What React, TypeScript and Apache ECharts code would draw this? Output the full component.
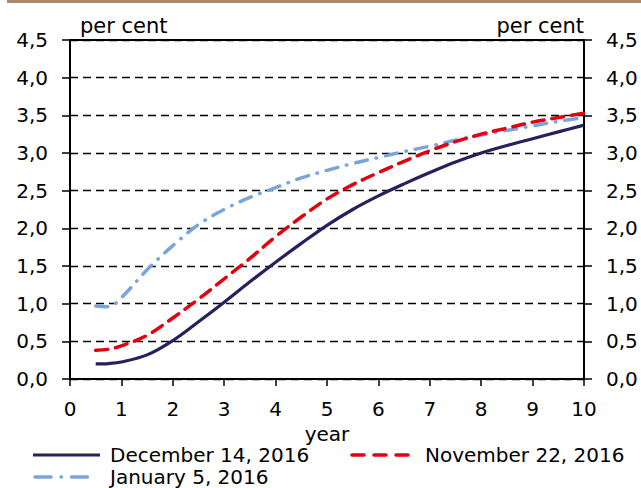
import React, { useEffect, useRef } from "react";
import * as echarts from "echarts";

const years = [0.5, 0.75, 1, 1.5, 2, 2.5, 3, 3.5, 4, 4.5, 5, 5.5, 6, 6.5, 7, 7.5, 8, 8.5, 9, 9.5, 10];
const dec14 = [0.2, 0.205, 0.225, 0.32, 0.51, 0.76, 1.02, 1.29, 1.55, 1.8, 2.04, 2.25, 2.43, 2.59, 2.74, 2.88, 3.0, 3.1, 3.19, 3.28, 3.37];
const nov22 = [0.38, 0.395, 0.44, 0.58, 0.81, 1.06, 1.33, 1.6, 1.89, 2.15, 2.39, 2.58, 2.74, 2.89, 3.03, 3.15, 3.25, 3.33, 3.41, 3.47, 3.53];
const jan5 = [0.97, 0.96, 1.08, 1.45, 1.77, 2.05, 2.25, 2.41, 2.54, 2.67, 2.77, 2.86, 2.94, 3.02, 3.09, 3.17, 3.24, 3.3, 3.36, 3.42, 3.47];
const seriesNames = ["December 14, 2016", "November 22, 2016", "January 5, 2016"];
const yUnit = "per cent";
const xName = "year";

const FONT = "DejaVu Sans";
const FS = 20;
const NAVY = "#24215c";
const RED = "#e3000f";
const BLUE = "#79a5db";

export default function App() {
  const ref = useRef<HTMLDivElement>(null);
  useEffect(() => {
    if (!ref.current) return;
    const chart = echarts.init(ref.current, undefined, { renderer: "svg" });
    const pairs = (ys: number[]) => years.map((x, i) => [x, ys[i]]);
    const fmt = (v: number) => v.toFixed(1).replace(".", ",");
    const font = `${FS}px "${FONT}"`;
    const yCommon = {
      type: "value",
      min: 0,
      max: 4.5,
      interval: 0.5,
      name: yUnit,
      nameGap: 4,
      axisLine: { show: true, lineStyle: { color: "#000", width: 2 } },
      axisTick: { show: true, length: 8, lineStyle: { color: "#000", width: 1.5 } },
      axisLabel: { color: "#000", fontFamily: FONT, fontSize: FS, margin: 22, formatter: fmt },
    };
    const legendRow = (x1: number, x2: number, y: number, tx: number, color: string, dash: number[] | null, w: number, text: string) => [
      {
        type: "line",
        shape: { x1, y1: y, x2, y2: y },
        style: { stroke: color, lineWidth: w, lineDash: dash || undefined, lineCap: dash ? "round" : "butt" },
      },
      {
        type: "text",
        x: tx,
        y,
        style: { text, font, fill: "#000", verticalAlign: "middle", align: "left" },
      },
    ];
    chart.setOption({
      animation: false,
      backgroundColor: "#fff",
      textStyle: { fontFamily: FONT },
      graphic: [
        { type: "rect", shape: { x: 7, y: 0, width: 634, height: 3 }, style: { fill: "#a68a6b" } },
        ...legendRow(33, 100, 455, 110, NAVY, null, 3.2, seriesNames[0]),
        ...legendRow(352, 417, 455, 425, RED, [12, 10], 3.5, seriesNames[1]),
        ...legendRow(35, 91, 477, 110, BLUE, [16, 10, 0.5, 10], 3.5, seriesNames[2]),
      ],
      grid: {
        left: 70,
        right: 57,
        top: 40,
        bottom: 109,
        show: true,
        borderColor: "#000",
        borderWidth: 2,
        backgroundColor: "transparent",
      },
      xAxis: {
        type: "value",
        min: 0,
        max: 10,
        interval: 1,
        name: xName,
        nameLocation: "middle",
        nameGap: 40,
        nameTextStyle: { color: "#000", fontFamily: FONT, fontSize: FS },
        axisLine: { show: true, onZero: false, lineStyle: { color: "#000", width: 2 } },
        axisTick: { show: true, length: 7, lineStyle: { color: "#000", width: 1.5 } },
        axisLabel: { color: "#000", fontFamily: FONT, fontSize: FS, margin: 20 },
        splitLine: { show: false },
      },
      yAxis: [
        {
          ...yCommon,
          position: "left",
          nameTextStyle: { color: "#000", fontFamily: FONT, fontSize: 21, align: "left", padding: [0, 0, 0, 10] },
          splitLine: { show: true, lineStyle: { color: "#000", width: 1.4, type: [8, 5] } },
        },
        {
          ...yCommon,
          position: "right",
          nameTextStyle: { color: "#000", fontFamily: FONT, fontSize: 21, align: "right", padding: [0, 0, 0, 0] },
          splitLine: { show: false },
        },
      ],
      series: [
        {
          name: seriesNames[0],
          type: "line",
          data: pairs(dec14),
          smooth: 0.35,
          symbol: "none",
          z: 3,
          lineStyle: { color: NAVY, width: 3.2 },
        },
        {
          name: seriesNames[1],
          type: "line",
          data: pairs(nov22),
          smooth: 0.35,
          symbol: "none",
          z: 4,
          lineStyle: { color: RED, width: 3.5, type: [12, 8], cap: "round" },
        },
        {
          name: seriesNames[2],
          type: "line",
          data: pairs(jan5),
          smooth: 0.35,
          symbol: "none",
          z: 2,
          lineStyle: { color: BLUE, width: 3.5, type: [12, 9, 0.5, 9], cap: "round" },
        },
      ],
    });
    return () => chart.dispose();
  }, []);
  return (
    <div
      ref={ref}
      style={{ position: "absolute", left: 0, top: 0, width: 641, height: 488 }}
    />
  );
}
